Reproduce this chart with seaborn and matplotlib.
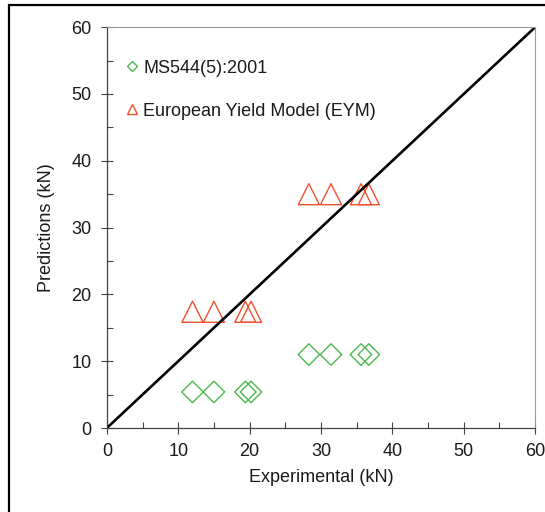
import numpy as np
import pandas as pd
import matplotlib
matplotlib.use("Agg")
import matplotlib.pyplot as plt
import seaborn as sns
from matplotlib.patches import Rectangle
from matplotlib.ticker import MultipleLocator

# data
experimental = [12.0, 15.0, 19.4, 20.2, 28.3, 31.4, 35.6, 36.7]
ms544 = [5.4, 5.4, 5.4, 5.4, 11.0, 11.0, 11.0, 11.0]
eym = [17.4, 17.4, 17.4, 17.4, 35.0, 35.0, 35.0, 35.0]
series_names = ["MS544(5):2001", "European Yield Model (EYM)"]
ticks = [0, 10, 20, 30, 40, 50, 60]

df = pd.DataFrame({
    "Experimental": experimental * 2,
    "Prediction": ms544 + eym,
    "Model": [series_names[0]] * len(ms544) + [series_names[1]] * len(eym),
})

sns.set_style("ticks")
plt.rcParams["font.family"] = ["Liberation Sans", "DejaVu Sans"]

fig = plt.figure(figsize=(5.45, 5.12), dpi=100)
ax = fig.add_axes([0.196, 0.164, 0.786, 0.783])

colors = {series_names[0]: "#4cb84c", series_names[1]: "#f0502a"}
markers = {series_names[0]: "D", series_names[1]: "^"}

for name in series_names:
    sub = df[df["Model"] == name]
    sns.scatterplot(data=sub, x="Experimental", y="Prediction", ax=ax,
                    marker=markers[name], s=230 if name == series_names[1] else 120,
                    facecolors="none", edgecolor=colors[name], linewidth=1.0,
                    label=name, legend=False)

# 1:1 line
ax.plot([0, 60], [0, 60], color="black", lw=1.9, zorder=1)

ax.set_xlim(0, 60)
ax.set_ylim(0, 60)
ax.set_xticks(ticks)
ax.set_yticks(ticks)
ax.xaxis.set_minor_locator(MultipleLocator(5))
ax.yaxis.set_minor_locator(MultipleLocator(5))
ax.tick_params(which="major", direction="inout", length=8, width=0.8,
               color="#444444", labelsize=13, pad=7, labelcolor="#1a1a1a")
ax.tick_params(which="minor", direction="in", length=4, width=0.8, color="#444444")
for side in ["left", "bottom"]:
    ax.spines[side].set_color("#444444")
    ax.spines[side].set_linewidth(0.9)
for side in ["top", "right"]:
    ax.spines[side].set_color("#999999")
    ax.spines[side].set_linewidth(0.8)

ax.set_xlabel("Experimental (kN)", fontsize=13, labelpad=6, color="#1a1a1a")
ax.set_ylabel("Predictions (kN)", fontsize=13, labelpad=12, color="#1a1a1a")

handles = [
    plt.Line2D([], [], ls="none", marker="D", markersize=5.5, mfc="none",
               mec=colors[series_names[0]], mew=1.0),
    plt.Line2D([], [], ls="none", marker="^", markersize=7, mfc="none",
               mec=colors[series_names[1]], mew=1.0),
]
leg = ax.legend(handles, series_names, loc="upper left", bbox_to_anchor=(0.03, 0.937),
                frameon=False, fontsize=13, handlelength=0.6, handletextpad=0.3,
                labelspacing=1.45, borderaxespad=0)
for t in leg.get_texts():
    t.set_color("#1a1a1a")

# outer frame of the figure panel
fig.patches.append(Rectangle((8.5 / 545, -0.1), 1.2, 1.1 - 4.5 / 512,
                             transform=fig.transFigure, fill=False,
                             edgecolor="black", linewidth=1.6))

fig.savefig("out.png", dpi=100)
